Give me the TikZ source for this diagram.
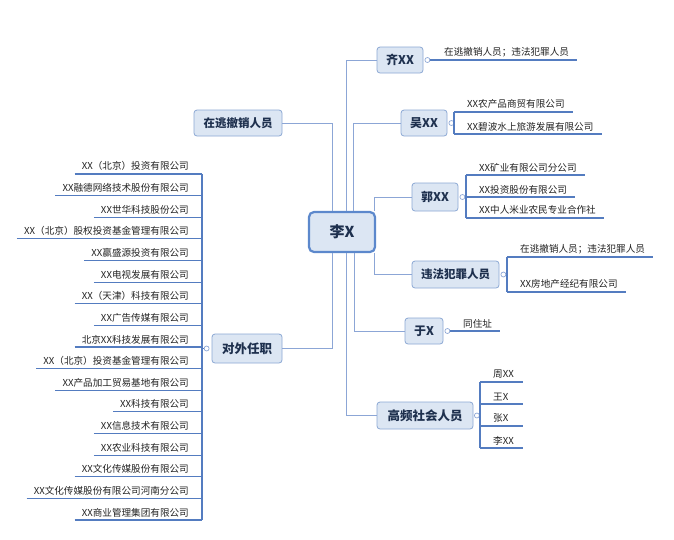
\documentclass[tikz,border=0pt]{standalone}
\usepackage{fontspec}
\setmainfont{Noto Sans CJK SC}
\definecolor{conncol}{RGB}{140,166,214}
\definecolor{ulc}{RGB}{84,124,192}
\definecolor{boxfill}{RGB}{220,230,243}
\definecolor{boxdraw}{RGB}{140,168,212}
\definecolor{rootdraw}{RGB}{92,136,204}
\definecolor{btext}{RGB}{30,48,78}
\definecolor{ltext}{RGB}{35,35,35}
\tikzset{
  branch/.style={draw=boxdraw, fill=boxfill, rounded corners=3pt, line width=0.8pt,
    text=btext, font=\bfseries\fontsize{12}{14}\selectfont, inner sep=0pt, minimum height=26pt},
  rootbox/.style={draw=rootdraw, fill=boxfill, rounded corners=5pt, line width=2.2pt,
    text=btext, font=\bfseries\fontsize{15}{18}\selectfont, inner sep=0pt,
    minimum width=66pt, minimum height=40pt},
  conn/.style={draw=conncol, line width=0.9pt},
  ul/.style={draw=ulc, line width=1.1pt},
  dotn/.style={circle, draw=conncol, fill=white, line width=0.7pt, minimum size=5pt, inner sep=0pt},
  leafR/.style={anchor=south west, inner xsep=8pt, inner ysep=3pt,
    font=\fontsize{9.6}{11}\selectfont, text=ltext},
  leafL/.style={anchor=south east, inner xsep=8pt, inner ysep=3pt,
    font=\fontsize{9.6}{11}\selectfont, text=ltext},
}
\begin{document}
\begin{tikzpicture}[x=1pt,y=-1pt]
\fill[white] (0,0) rectangle (674,539);
\useasboundingbox (0,0) rectangle (674,539);

% root and branches
\node[rootbox] (root) at (342,232) {李X};
\node[branch, minimum width=46pt] (qi) at (400,60) {齐XX};
\node[branch, minimum width=46pt] (wu) at (424,123) {吴XX};
\node[branch, minimum width=46pt, minimum height=28pt] (guo) at (435,197) {郭XX};
\node[branch, minimum width=87pt, minimum height=27pt, font=\bfseries\fontsize{11.5}{14}\selectfont] (wf) at (455.5,274.5) {违法犯罪人员};
\node[branch, minimum width=38pt] (yu) at (424,331) {于X};
\node[branch, minimum width=96pt, minimum height=27pt, font=\bfseries\fontsize{12.5}{14}\selectfont] (gp) at (425,415.5) {高频社会人员};
\node[branch, minimum width=88pt, font=\bfseries\fontsize{11.5}{14}\selectfont] (zt) at (238,123) {在逃撤销人员};
\node[branch, minimum width=70pt, minimum height=29pt, font=\bfseries\fontsize{12.5}{14}\selectfont] (dw) at (247,348.5) {对外任职};

% root connectors
\draw[conn] ([xshift=4pt]root.north) |- (qi.west);
\draw[conn] ([xshift=11pt]root.north) |- (wu.west);
\draw[conn] ([xshift=-2pt]root.north east) |- (guo.west);
\draw[conn] ([xshift=-2pt]root.south east) |- (wf.west);
\draw[conn] ([xshift=12pt]root.south) |- (yu.west);
\draw[conn] ([xshift=4pt]root.south) |- (gp.west);
\draw[conn] ([xshift=-10pt]root.north) |- (zt.east);
\draw[conn] ([xshift=-10pt]root.south) |- (dw.east);

% 齐XX
\node[dotn] (qid) at ([xshift=4pt]qi.east) {};
\node[leafR] (q1) at (436,60) {在逃撤销人员；违法犯罪人员};
\draw[ul] (qid.east) -- (q1.south east);

% 吴XX
\node[dotn] (wud) at ([xshift=4pt]wu.east) {};
\coordinate (wub) at (454,123);
\node[leafR] (w1) at (459,112) {XX农产品商贸有限公司};
\node[leafR] (w2) at (459,134) {XX碧波水上旅游发展有限公司};
\draw[ul] (wud.east) -- (wub);
\draw[ul] (w1.south west -| wub) -- (w2.south west -| wub);
\draw[ul] (w1.south west -| wub) -- (w1.south east);
\draw[ul] (w2.south west -| wub) -- (w2.south east);

% 郭XX
\node[dotn] (guod) at ([xshift=4pt]guo.east) {};
\coordinate (guob) at (466,197);
\node[leafR] (g1) at (471,175) {XX矿业有限公司分公司};
\node[leafR] (g2) at (471,197) {XX投资股份有限公司};
\node[leafR] (g3) at (471,218) {XX中人米业农民专业合作社};
\draw[ul] (guod.east) -- (guob);
\draw[ul] (g1.south west -| guob) -- (g3.south west -| guob);
\foreach \n in {g1,g2,g3}{\draw[ul] (\n.south west -| guob) -- (\n.south east);}

% 违法犯罪人员
\node[dotn] (wfd) at ([xshift=4pt]wf.east) {};
\coordinate (wfb) at (507,274.5);
\node[leafR] (f1) at (512,257) {在逃撤销人员；违法犯罪人员};
\node[leafR] (f2) at (512,292) {XX房地产经纪有限公司};
\draw[ul] (wfd.east) -- (wfb);
\draw[ul] (f1.south west -| wfb) -- (f2.south west -| wfb);
\foreach \n in {f1,f2}{\draw[ul] (\n.south west -| wfb) -- (\n.south east);}

% 于X
\node[dotn] (yud) at ([xshift=4pt]yu.east) {};
\node[leafR] (y1) at (455,331) {同住址};
\draw[ul] (yud.east) -- (y1.south east);

% 高频社会人员
\node[dotn] (gpd) at ([xshift=3.5pt]gp.east) {};
\coordinate (gpb) at (480,415.5);
\node[leafR] (p1) at (485,382) {周XX};
\node[leafR] (p2) at (485,404) {王X};
\node[leafR] (p3) at (485,426) {张X};
\node[leafR] (p4) at (485,448) {李XX};
\draw[ul] (gpd.east) -- (gpb);
\draw[ul] (p1.south west -| gpb) -- (p4.south west -| gpb);
\foreach \n in {p1,p2,p3,p4}{\draw[ul] (\n.south west -| gpb) -- (\n.south west -| 523,0);}

% 对外任职
\node[dotn] (dwd) at ([xshift=-5pt]dw.west) {};
\coordinate (dwb) at (202,348.5);
\draw[ul] (dwd.west) -- (dwb);
\foreach \t [count=\i from 0] in {XX（北京）投资有限公司, XX融德网络技术股份有限公司, XX世华科技股份公司,
  XX（北京）股权投资基金管理有限公司, XX赢盛源投资有限公司, XX电视发展有限公司,
  XX（天津）科技有限公司, XX广告传媒有限公司, 北京XX科技发展有限公司,
  XX（北京）投资基金管理有限公司, XX产品加工贸易基地有限公司, XX科技有限公司,
  XX信息技术有限公司, XX农业科技有限公司, XX文化传媒股份有限公司,
  XX文化传媒股份有限公司河南分公司, XX商业管理集团有限公司}{
  \node[leafL] (L\i) at (197,{174+21.625*\i}) {\t};
  \draw[ul] ([xshift=1pt]L\i.south west) -- (L\i.south west -| dwb);
}
\draw[ul] (L0.south west -| dwb) -- (L16.south west -| dwb);
\end{tikzpicture}
\end{document}
